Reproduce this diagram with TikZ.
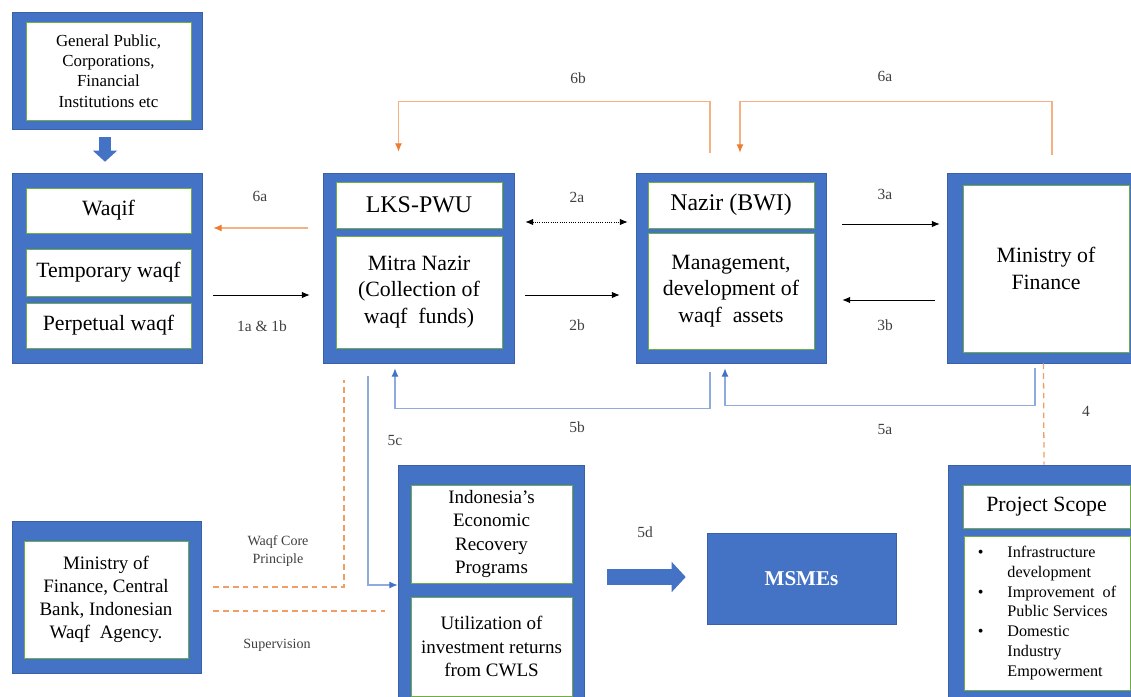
\documentclass[tikz,border=0pt]{standalone}
\usepackage{fontspec}
\setmainfont{Liberation Serif}
\usetikzlibrary{arrows.meta,calc}

\definecolor{boxblue}{HTML}{4472C4}
\definecolor{boxgreen}{HTML}{70AD47}
\definecolor{linkorange}{HTML}{ED7D31}
\definecolor{paleorange}{HTML}{F4B183}
\definecolor{paleblue}{HTML}{8FAADC}

\tikzset{
    frame/.style 2 args={fill=boxblue, draw=boxblue!85!black, line width=0.4pt,
        minimum width=#1*0.025cm, minimum height=#2*0.025cm, inner sep=0pt},
    inbox/.style 2 args={fill=white, draw=boxgreen, line width=0.7pt,
        minimum width=#1*0.025cm, minimum height=#2*0.025cm, inner sep=0pt, align=center},
    headtext/.style={font=\fontsize{17}{20}\selectfont},
    bodytext/.style={font=\fontsize{15.5}{19}\selectfont},
    smalltext/.style={font=\fontsize{13.5}{16.5}\selectfont},
    tag/.style={font=\fontsize{11}{13}\selectfont, text=black!75},
    note/.style={font=\fontsize{10}{12.5}\selectfont, text=black!75, align=center},
    flow/.style={line width=0.6pt, -{Latex[length=5.5pt,width=4.5pt]}},
    backlink/.style={paleorange, line width=0.8pt, -{Latex[length=6pt,width=5pt,color=linkorange]}},
    fundlink/.style={paleblue, line width=0.8pt, -{Latex[length=6pt,width=5pt,color=boxblue]}},
    rulelink/.style={linkorange!75, line width=0.9pt, dash pattern=on 4pt off 3pt},
}

\begin{document}
\begin{tikzpicture}[x=0.025cm, y=-0.025cm]
    \useasboundingbox (0,0) rectangle (1131,697);
    \clip (0,0) rectangle (1131,697);

    % Waqif side (left column)
    \node[frame={190}{117}] (gp) at (107,70.5) {};
    \node[inbox={165}{98}, font=\fontsize{12}{14.5}\selectfont] (gptxt) at (108.5,71)
        {General Public,\\Corporations,\\Financial\\Institutions etc};
    \node[frame={190}{190}] (waqif) at (107,268) {};
    \node[inbox={165}{45}, bodytext] (waqiftxt) at (108.5,210.5) {Waqif};
    \node[inbox={165}{47}, bodytext] (temp) at (108.5,272.5) {Temporary waqf};
    \node[inbox={165}{45}, bodytext] (perp) at (108.5,325.5) {Perpetual waqf};

    % LKS-PWU
    \node[frame={191}{190}] (lks) at (418.5,268) {};
    \node[inbox={166}{46}, headtext] (lkshead) at (419,205) {LKS-PWU};
    \node[inbox={166}{112}, bodytext] (lksbody) at (419,292)
        {Mitra Nazir\\(Collection of\\waqf\ \ funds)};

    % Nazir
    \node[frame={190}{190}] (nazir) at (731,268) {};
    \node[inbox={166}{46}, headtext] (nazirhead) at (731,205) {Nazir (BWI)};
    \node[inbox={166}{116}, bodytext] (nazirbody) at (731,291)
        {Management,\\development of\\waqf\ \ assets};

    % Ministry of Finance
    \node[frame={193}{190}] (mof) at (1043.5,268) {};
    \node[inbox={166}{167}, bodytext] (moftxt) at (1046,268.5) {Ministry of\\Finance};

    % Regulators
    \node[frame={189}{152}] (mofcb) at (106.5,597) {};
    \node[inbox={164}{117}, smalltext] (mofcbtxt) at (106,599.5)
        {Ministry of\\Finance, Central\\Bank, Indonesian\\Waqf\ \ Agency.};

    % Programs funded by CWLS
    \node[frame={186}{240}] (cwls) at (491,585) {};
    \node[inbox={161}{98}, smalltext] (cwlshead) at (491.5,534)
        {Indonesia’s\\Economic\\Recovery\\Programs};
    \node[inbox={161}{99}, smalltext] (cwlsbody) at (491.5,646.5)
        {Utilization of\\investment returns\\from CWLS};

    \node[frame={189}{91}, text=white, font=\fontsize{15}{18}\selectfont\bfseries] (msme)
        at (801.5,578.5) {MSMEs};

    % Project scope
    \node[frame={192}{240}] (proj) at (1044,585) {};
    \node[inbox={167}{43}, bodytext] (projhead) at (1046.5,506.5) {Project Scope};
    \node[inbox={166}{154}, font=\fontsize{11.5}{14}\selectfont] (projbody) at (1047,613)
        {\begin{tabular}{@{}l@{\hspace{17pt}}l@{}}
            \textbullet & Infrastructure\\
                        & development\\
            \textbullet & Improvement\enspace of\\
                        & Public Services\\
            \textbullet & Domestic\\
                        & Industry\\
                        & Empowerment
        \end{tabular}};

    % Block arrows
    \draw[boxblue, line width=8.5pt, -{Triangle[length=8pt,width=17pt]},
        shorten <=5.7pt, shorten >=7.8pt] ($(gp.south)+(-2,0)$) -- ($(waqif.north)+(-2,0)$);
    \draw[boxblue, line width=11pt, -{Triangle[length=10pt,width=21pt]}]
        ($(cwls.east)+(23,-8)$) -- ($(msme.west)+(-21,-1.5)$);

    % Flows between the top boxes
    \draw[backlink] ($(lks.west)+(-15,-40)$) -- ($(waqif.east)+(11,-40)$);
    \draw[flow] ($(waqif.east)+(11,27)$) -- ($(lks.west)+(-13,27)$);
    \draw[line width=0.6pt, densely dotted, {Latex[length=5.5pt,width=4.5pt]}-{Latex[length=5.5pt,width=4.5pt]}]
        ($(lks.east)+(11,-46)$) -- ($(nazir.west)+(-8,-46)$);
    \draw[flow] ($(lks.east)+(11,27)$) -- ($(nazir.west)+(-16,27)$);
    \draw[flow] ($(nazir.east)+(16,-44)$) -- ($(mof.west)+(-7,-44)$);
    \draw[flow] ($(mof.west)+(-12,32)$) -- ($(nazir.east)+(16,32)$);

    % Return links over the top
    \draw[backlink] ($(nazir.north)+(-21,-20)$) |- ($(lks.north)+(-20,-71)$) -- ($(lks.north)+(-20,-21)$);
    \draw[backlink] ($(mof.north)+(8.5,-18)$) |- ($(nazir.north)+(9,-71)$) -- ($(nazir.north)+(9,-20)$);

    % Return links underneath
    \draw[fundlink] ($(nazir.south)+(-21,9)$) |- ($(lks.south)+(-23.5,45)$) -- ($(lks.south)+(-23.5,5)$);
    \draw[fundlink] ($(mof.south)+(-8.5,5)$) |- ($(nazir.south)+(-6,42)$) -- ($(nazir.south)+(-6,5)$);
    \draw[fundlink] ($(lks.south)+(-50.5,13)$) |- (cwls.west);
    \draw[rulelink] (mof.south) -- (proj.north);

    % Oversight
    \draw[rulelink] ($(mofcb.east)+(12,-10)$) -| ($(lks.south)+(-74.5,17)$);
    \draw[rulelink] ($(mofcb.east)+(12,14)$) -- ($(cwls.west)+(-13,26)$);

    % Step labels
    \node[tag] (lbl6b) at (578,78) {6b};
    \node[tag] (lbl6a) at (885,76) {6a};
    \node[tag] (lbl6aleft) at (260,196) {6a};
    \node[tag] (lbl1) at (262,326) {1a \& 1b};
    \node[tag] (lbl2a) at (577,197) {2a};
    \node[tag] (lbl2b) at (577,325) {2b};
    \node[tag] (lbl3a) at (885,194) {3a};
    \node[tag] (lbl3b) at (885,325) {3b};
    \node[tag] (lbl5b) at (577,427) {5b};
    \node[tag] (lbl5a) at (885,430) {5a};
    \node[tag] (lbl4) at (1086,411) {4};
    \node[tag] (lbl5c) at (395,441) {5c};
    \node[tag] (lbl5d) at (645,532) {5d};
    \node[note] (lblcore) at (278,551) {Waqf Core\\Principle};
    \node[note] (lblsuper) at (277,645) {Supervision};
\end{tikzpicture}
\end{document}
